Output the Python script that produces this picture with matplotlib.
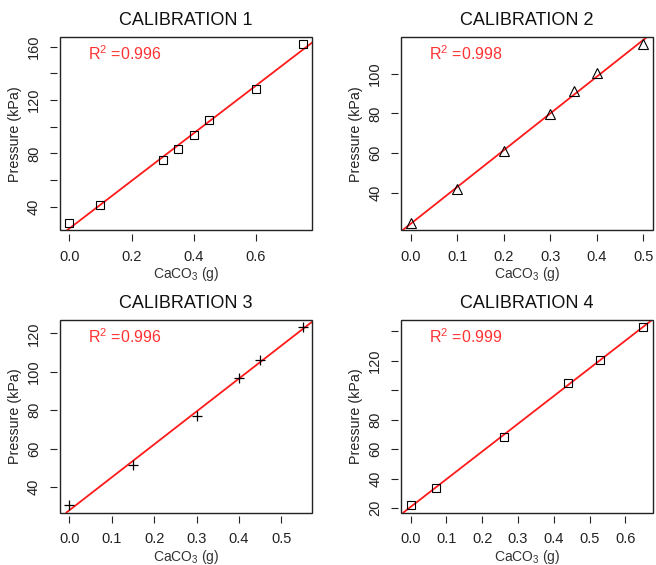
import numpy as np
import matplotlib
matplotlib.use("Agg")
import matplotlib.pyplot as plt
from matplotlib.patches import Rectangle

plt.rcParams['font.family'] = ['Liberation Sans', 'DejaVu Sans']
plt.rcParams['mathtext.fontset'] = 'custom'
plt.rcParams['mathtext.rm'] = 'Liberation Sans'
plt.rcParams['mathtext.it'] = 'Liberation Sans:italic'
plt.rcParams['mathtext.bf'] = 'Liberation Sans:bold'

# ---- data ----
titles = ["CALIBRATION 1", "CALIBRATION 2", "CALIBRATION 3", "CALIBRATION 4"]
r2_labels = ["0.996", "0.998", "0.996", "0.999"]

x1 = [0.0, 0.1, 0.3, 0.35, 0.4, 0.45, 0.6, 0.75]
y1 = [27.5, 41.0, 75.0, 83.5, 94.0, 105.0, 128.5, 162.0]

x2 = [0.0, 0.1, 0.2, 0.3, 0.35, 0.4, 0.5]
y2 = [24.5, 41.8, 61.0, 79.8, 91.2, 100.3, 115.0]

x3 = [0.0, 0.15, 0.3, 0.4, 0.45, 0.55]
y3 = [30.4, 51.3, 76.8, 96.8, 105.9, 123.2]

x4 = [0.0, 0.07, 0.26, 0.44, 0.53, 0.65]
y4 = [21.8, 33.3, 68.1, 104.9, 120.7, 142.8]

xticks = [[0, 0.2, 0.4, 0.6],
          [0, 0.1, 0.2, 0.3, 0.4, 0.5],
          [0, 0.1, 0.2, 0.3, 0.4, 0.5],
          [0, 0.1, 0.2, 0.3, 0.4, 0.5, 0.6]]
yticks = [[40, 60, 80, 100, 120, 140, 160],
          [40, 60, 80, 100],
          [40, 60, 80, 100, 120],
          [20, 40, 60, 80, 100, 120, 140]]
ytick_labels = [["40", "", "80", "", "120", "", "160"],
                ["40", "60", "80", "100"],
                ["40", "60", "80", "100", "120"],
                ["20", "40", "60", "80", "", "120", ""]]
markers = ['s', '^', '+', 's']
msizes = [5.4, 7.0, 7.4, 5.4]

xs = [x1, x2, x3, x4]
ys = [y1, y2, y3, y4]

W, H = 656, 565
fig = plt.figure(figsize=(W / 100, H / 100), dpi=100)

boxes = [(60, 37, 312, 230.5), (401.3, 37, 652.7, 230.5),
         (60, 320, 312, 512.5), (401.3, 320, 652.7, 512.5)]

for i in range(4):
    l, t, r, b = boxes[i]
    ax = fig.add_axes([l / W, 1 - b / H, (r - l) / W, (b - t) / H])
    x = np.array(xs[i]); y = np.array(ys[i])
    m, c = np.polyfit(x, y, 1)
    xr = x.max() - x.min(); yr = y.max() - y.min()
    ax.set_xlim(x.min() - 0.04 * xr, x.max() + 0.04 * xr)
    ax.set_ylim(y.min() - 0.04 * yr, y.max() + 0.04 * yr)
    ax.axline((0, c), slope=m, color='#ff1a1a', lw=1.3, zorder=2)
    if markers[i] == '+':
        ax.plot(x, y, linestyle='none', marker='+', ms=msizes[i],
                mew=0.9, color='black', zorder=3)
    else:
        ax.plot(x, y, linestyle='none', marker=markers[i], ms=msizes[i],
                mfc='none', mec='black', mew=0.8, zorder=3)
    for s in ax.spines.values():
        s.set_visible(False)
    ax.spines['bottom'].set_position(('outward', 2.2))
    ax.spines['left'].set_position(('outward', 2.2))
    ax.add_patch(Rectangle((0, 0), 1, 1, transform=ax.transAxes, fill=False,
                           ec='#222222', lw=1.0, clip_on=False, zorder=5))
    ax.set_xticks(xticks[i])
    ax.set_xticklabels([f"{v:.1f}" for v in xticks[i]])
    ax.set_yticks(yticks[i])
    ax.set_yticklabels(ytick_labels[i])
    ax.tick_params(direction='out', length=5, width=0.8, colors='#222222',
                   labelsize=10.5)
    ax.tick_params(axis='x', pad=7)
    ax.tick_params(axis='y', labelrotation=90, pad=6.5)
    for lab in ax.get_yticklabels():
        lab.set_va('center')
    ax.set_xlabel(r'CaCO$_3$ (g)', fontsize=10, color='#333333')
    ax.xaxis.set_label_coords(0.5, -44 / (b - t))
    ax.xaxis.label.set_va('center')
    ax.set_ylabel('Pressure (kPa)', fontsize=10.3, color='#222222')
    ax.yaxis.set_label_coords(-45 / (r - l), 0.5)
    ax.yaxis.label.set_va('center')
    ax.yaxis.label.set_ha('center')
    ax.text(0.5, 1 + 16.5 / (b - t), titles[i], transform=ax.transAxes,
            ha='center', va='center', fontsize=13, color='#111111')
    ax.text(0.255, 0.915, r'R$^2$ =' + r2_labels[i], transform=ax.transAxes,
            ha='center', va='center', fontsize=11.5, color='#ff3333')

fig.savefig('out.png', dpi=100)
